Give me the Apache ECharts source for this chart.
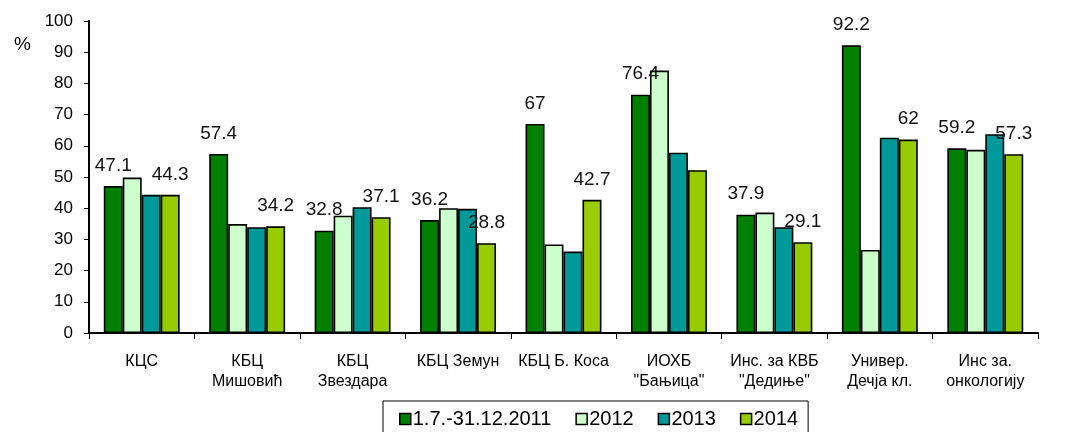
<!DOCTYPE html>
<html>
<head>
<meta charset="utf-8">
<script src="https://cdn.jsdelivr.net/npm/echarts@6/dist/echarts.min.js"></script>
<style>
  html, body { margin: 0; padding: 0; background: #fff; }
  #chart { width: 1074px; height: 432px; }
</style>
</head>
<body>
<div id="chart"></div>
<script>
// категорије (установе)
var categories = ['КЦС', 'КБЦ\nМишовић', 'КБЦ\nЗвездара', 'КБЦ Земун', 'КБЦ Б. Коса',
  'ИОХБ\n"Бањица"', 'Инс. за КВБ\n"Дедиње"', 'Универ.\nДечја кл.', 'Инс за.\nонкологију'];
var seriesNames = ['1.7.-31.12.2011', '2012', '2013', '2014'];
// вредности по годинама (%)
var values2011 = [47.1, 57.4, 32.8, 36.2, 67, 76.4, 37.9, 92.2, 59.2];
var values2012 = [49.8, 34.9, 37.6, 40.0, 28.4, 84.1, 38.6, 26.6, 58.7];
var values2013 = [44.3, 33.9, 40.3, 39.8, 26.1, 57.8, 33.9, 62.6, 63.7];
var values2014 = [44.3, 34.2, 37.1, 28.8, 42.7, 52.2, 29.1, 62, 57.3];
// у оригиналу вредност 2014 за ИОХБ нема натпис
var hiddenLabels2014 = [5];
var colors = ['#008000', '#ccffcc', '#009999', '#99cc00'];

var chart = echarts.init(document.getElementById('chart'));

function makeSeries(name, data, color, showLabel, hidden) {
  hidden = hidden || [];
  return {
    name: name,
    type: 'bar',
    data: data.map(function (v, i) {
      return hidden.indexOf(i) >= 0 ? { value: v, label: { show: false } } : v;
    }),
    barGap: '0%',
    barCategoryGap: '28%',
    itemStyle: { color: color, borderColor: '#000', borderWidth: 1.6 },
    label: {
      show: showLabel,
      position: 'top',
      distance: 11,
      color: '#111',
      fontSize: 19,
      fontFamily: 'Liberation Sans, Arial, sans-serif'
    }
  };
}

chart.setOption({
  animation: false,
  title: {
    text: '%',
    left: 9,
    top: 30,
    textStyle: { fontSize: 19, fontWeight: 'normal', color: '#000', fontFamily: 'Liberation Sans, Arial, sans-serif' }
  },
  grid: { left: 89, right: 36, top: 21, bottom: 99 },
  legend: {
    left: 383,
    top: 401,
    padding: [8, 10, 12, 16],
    borderColor: '#000',
    borderWidth: 1,
    itemWidth: 11,
    itemHeight: 11,
    itemGap: 24,
    icon: 'rect',
    itemStyle: { borderColor: '#000', borderWidth: 1.5 },
    textStyle: { fontSize: 20, color: '#000', fontFamily: 'Liberation Sans, Arial, sans-serif', padding: [0, 0, 0, -3] },
    data: seriesNames
  },
  xAxis: {
    type: 'category',
    data: categories,
    axisLine: { lineStyle: { color: '#000', width: 2 } },
    axisTick: { show: true, length: 6, lineStyle: { color: '#000' } },
    axisLabel: {
      interval: 0,
      margin: 19,
      color: '#000',
      fontSize: 16,
      lineHeight: 20,
      fontFamily: 'Liberation Sans, Arial, sans-serif'
    }
  },
  yAxis: {
    type: 'value',
    min: 0,
    max: 100,
    interval: 10,
    splitLine: { show: false },
    axisLine: { show: true, lineStyle: { color: '#000', width: 2 } },
    axisTick: { show: true, length: 5, lineStyle: { color: '#000' } },
    axisLabel: { color: '#000', fontSize: 17, margin: 16, fontFamily: 'Liberation Sans, Arial, sans-serif' }
  },
  series: [
    makeSeries(seriesNames[0], values2011, colors[0], true),
    makeSeries(seriesNames[1], values2012, colors[1], false),
    makeSeries(seriesNames[2], values2013, colors[2], false),
    makeSeries(seriesNames[3], values2014, colors[3], true, hiddenLabels2014)
  ]
});
</script>
</body>
</html>
